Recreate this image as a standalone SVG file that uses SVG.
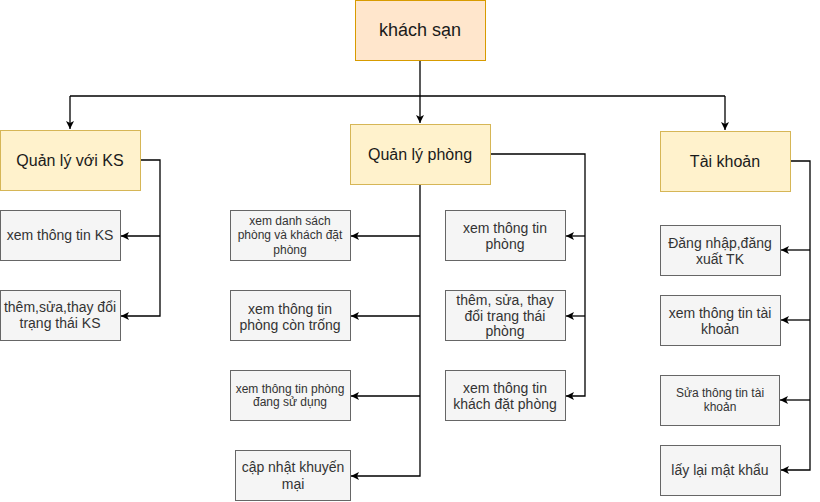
<svg xmlns="http://www.w3.org/2000/svg" width="820" height="502" viewBox="0 0 820 502">
<style>
text{font-family:"Liberation Sans",Arial,sans-serif;text-anchor:middle;dominant-baseline:central}
.root rect{fill:#ffe6cc;stroke:#d79b00;stroke-width:1}
.main rect{fill:#fff2cc;stroke:#d6b656;stroke-width:1}
.main text,.root text{fill:#1a1a1a;font-size:16px}
.root text{font-size:18px}
.leaf rect{fill:#f5f5f5;stroke:#666666;stroke-width:1}
.leaf text{fill:#333333;font-size:14px}
.leaf text.s{font-size:12px}
.conn path{fill:none;stroke:#000;stroke-width:1.3;marker-end:url(#arr)}
.conn path.n{marker-end:none}
</style>
<defs>
<marker id="arr" markerUnits="userSpaceOnUse" markerWidth="10" markerHeight="10" refX="8" refY="4" orient="auto">
<path d="M0,0 L8,4 L0,8 L2,4 z" fill="#000"/>
</marker>
</defs>
<rect width="820" height="502" fill="#ffffff"/>
<g class="conn" id="connectors">
<path d="M420,60 V123"/>
<path class="n" d="M70,96 H725"/>
<path d="M70,96 V129"/>
<path d="M725,96 V130"/>
<path d="M140,160 H160 V316 H121"/>
<path d="M160,236 H121"/>
<path d="M420,184 V476 H351"/>
<path d="M420,236 H351"/>
<path d="M420,316 H351"/>
<path d="M420,396 H351"/>
<path d="M490,154 H585 V396 H566"/>
<path d="M585,236 H566"/>
<path d="M585,316 H566"/>
<path d="M790,161 H810 V470 H781"/>
<path d="M810,250 H781"/>
<path d="M810,320 H781"/>
<path d="M810,400 H780"/>
</g>
<g class="root" id="khach-san"><rect x="355.5" y="0.5" width="130" height="60"/><text x="420" y="30">khách sạn</text></g>
<g class="main" id="quan-ly-ks"><rect x="0.5" y="130.5" width="140" height="60"/><text x="70" y="160">Quản lý với KS</text></g>
<g class="main" id="quan-ly-phong"><rect x="350.5" y="124.5" width="140" height="60"/><text x="420" y="154">Quản lý phòng</text></g>
<g class="main" id="tai-khoan"><rect x="660.5" y="131.5" width="130" height="60"/><text x="725" y="161">Tài khoản</text></g>

<g class="leaf" id="xem-ks"><rect x="0.5" y="210.5" width="120" height="50"/><text x="60" y="235">xem thông tin KS</text></g>
<g class="leaf" id="them-ks"><rect x="0.5" y="290.5" width="120" height="50"/><text x="60" y="307">thêm,sửa,thay đổi</text><text x="60" y="323">trạng thái KS</text></g>

<g class="leaf" id="ds-phong"><rect x="230.5" y="210.5" width="120" height="50"/><text class="s" x="290" y="221">xem danh sách</text><text class="s" x="290" y="235.3">phòng và khách đặt</text><text class="s" x="290" y="249.6">phòng</text></g>
<g class="leaf" id="phong-trong"><rect x="230.5" y="290.5" width="120" height="50"/><text x="290" y="309">xem thông tin</text><text x="290" y="325">phòng còn trống</text></g>
<g class="leaf" id="phong-dung"><rect x="230.5" y="370.5" width="120" height="50"/><text class="s" x="290" y="388.5">xem thông tin phòng</text><text class="s" x="290" y="402">đang sử dụng</text></g>
<g class="leaf" id="khuyen-mai"><rect x="235.5" y="450.5" width="115" height="50"/><text x="293" y="467">cập nhật khuyến</text><text x="293" y="484">mại</text></g>

<g class="leaf" id="xem-phong"><rect x="445.5" y="210.5" width="120" height="50"/><text x="505" y="228">xem thông tin</text><text x="505" y="244">phòng</text></g>
<g class="leaf" id="them-phong"><rect x="445.5" y="290.5" width="120" height="50"/><text x="505" y="300">thêm, sửa, thay</text><text x="505" y="315.5">đổi trang thái</text><text x="505" y="331">phòng</text></g>
<g class="leaf" id="khach-dat"><rect x="445.5" y="370.5" width="120" height="50"/><text x="505" y="388">xem thông tin</text><text x="505" y="404">khách đặt phòng</text></g>

<g class="leaf" id="dang-nhap"><rect x="660.5" y="225.5" width="120" height="50"/><text x="720" y="243">Đăng nhập,đăng</text><text x="720" y="259">xuất TK</text></g>
<g class="leaf" id="xem-tk"><rect x="660.5" y="295.5" width="120" height="50"/><text x="720" y="313">xem thông tin tài</text><text x="720" y="329">khoản</text></g>
<g class="leaf" id="sua-tk"><rect x="660.5" y="375.5" width="119" height="50"/><text class="s" x="720" y="393">Sửa thông tin tài</text><text class="s" x="720" y="407">khoản</text></g>
<g class="leaf" id="lay-mk"><rect x="660.5" y="445.5" width="120" height="50"/><text x="720" y="470">lấy lại mật khẩu</text></g>
</svg>
